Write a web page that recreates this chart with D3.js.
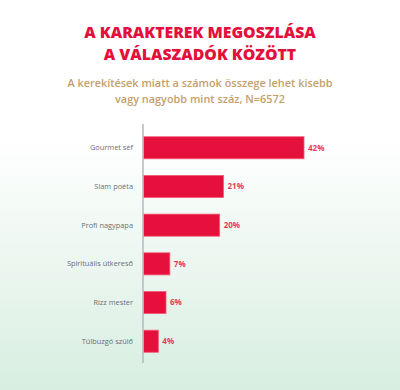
<!DOCTYPE html>
<html><head><meta charset="utf-8">
<script src="https://cdn.jsdelivr.net/npm/d3@7"></script>
<style>
html,body{margin:0;padding:0;}
body{width:400px;height:390px;overflow:hidden;}
</style></head>
<body><svg id="c" width="400" height="390"></svg>
<script>
const categories = ["Gourmet séf","Slam poéta","Profi nagypapa","Spirituális útkereső","Rizz mester","Túlbuzgó szülő"];
const values = [42,21,20,7,6,4];
const valueLabels = ["42%","21%","20%","7%","6%","4%"];
const titleLines = ["A KARAKTEREK MEGOSZLÁSA","A VÁLASZADÓK KÖZÖTT"];
const subtitleLines = ["A kerekítések miatt a számok összege lehet kisebb","vagy nagyobb mint száz, N=6572"];

const svg = d3.select("#c");
const defs = svg.append("defs");
const g = defs.append("linearGradient").attr("id","bg").attr("x1",0).attr("y1",0).attr("x2",0).attr("y2",1);
g.append("stop").attr("offset","0%").attr("stop-color","#ffffff");
g.append("stop").attr("offset","35%").attr("stop-color","#ffffff");
g.append("stop").attr("offset","100%").attr("stop-color","#d8eee1");
svg.append("rect").attr("width",400).attr("height",390).attr("fill","url(#bg)");

const font = "'Open Sans', sans-serif";
svg.selectAll("text.title").data(titleLines).join("text")
  .attr("class","title")
  .attr("x",200).attr("y",(d,i)=>38+i*22)
  .attr("text-anchor","middle")
  .attr("font-family",font).attr("font-weight",800).attr("font-size",15.8)
  .attr("fill","#e3103b").text(d=>d);
svg.selectAll("text.sub").data(subtitleLines).join("text")
  .attr("class","sub")
  .attr("x",200).attr("y",(d,i)=>87+i*15.5)
  .attr("text-anchor","middle")
  .attr("font-family",font).attr("font-weight",600).attr("font-size",10.9)
  .attr("fill","#c49f6c").text(d=>d);

const x0 = 143;
const x = d3.scaleLinear().domain([0,42]).range([x0,304]);
const y = d3.scaleBand().domain(categories).range([129,360]).paddingInner(0.43).paddingOuter(0.2);

svg.append("g").selectAll("rect").data(values).join("rect")
  .attr("x",x0+0.5).attr("y",(d,i)=>y(categories[i]))
  .attr("width",d=>x(d)-x0-0.5).attr("height",y.bandwidth())
  .attr("fill","#e5103b").attr("stroke","#f25a78").attr("stroke-width",0.8);

svg.append("line").attr("x1",x0).attr("x2",x0).attr("y1",124).attr("y2",363)
  .attr("stroke","#b4b8bc").attr("stroke-width",1.5);

svg.append("g").selectAll("text").data(categories).join("text")
  .attr("x",133).attr("y",d=>y(d)+y.bandwidth()/2)
  .attr("dy","0.35em").attr("text-anchor","end")
  .attr("font-family",font).attr("font-size",7.4).attr("fill","#6b6d7d").text(d=>d);

svg.append("g").selectAll("text").data(values).join("text")
  .attr("x",d=>x(d)+4).attr("y",(d,i)=>y(categories[i])+y.bandwidth()/2)
  .attr("dy","0.35em")
  .attr("font-family",font).attr("font-weight",700).attr("font-size",8).attr("fill","#e8395d")
  .text((d,i)=>valueLabels[i]);
</script></body></html>
